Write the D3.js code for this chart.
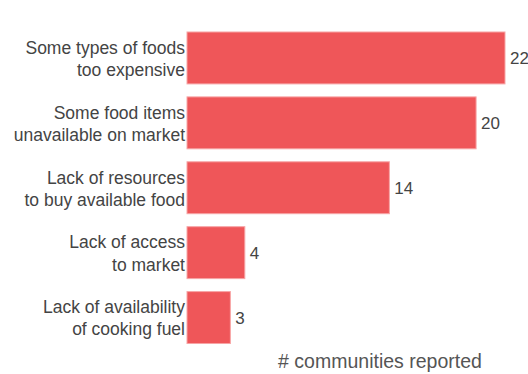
<!DOCTYPE html>
<html>
<head>
<meta charset="utf-8">
<script src="https://cdn.jsdelivr.net/npm/d3@7"></script>
<style>
  body { margin: 0; background: #fff; }
  text { font-family: "Liberation Sans", Arial, sans-serif; }
</style>
</head>
<body>
<div class="chart"></div>
<script>
var categories = [
    ["Some types of foods", "too expensive"],
    ["Some food items", "unavailable on market"],
    ["Lack of resources", "to buy available food"],
    ["Lack of access", "to market"],
    ["Lack of availability", "of cooking fuel"]
];
var values = [22, 20, 14, 4, 3];
var axisTitle = "# communities reported";

var w = 528;
var h = 374;
var left = 187;

var xScale = d3.scaleLinear()
                .domain([0, 22])
                .range([left, 505]);

var yScale = d3.scaleBand()
                .domain(d3.range(categories.length))
                .range([25.5, 350])
                .paddingInner(0.2)
                .paddingOuter(0.1);

var svg = d3.select('.chart')
            .append('svg')
            .attr('width', w)
            .attr('height', h);

svg.selectAll('rect')
    .data(values)
    .enter()
    .append('rect')
    .attr('x', xScale(0))
    .attr('y', function(d, i) { return yScale(i); })
    .attr('width', function(d) { return xScale(d) - xScale(0); })
    .attr('height', yScale.bandwidth())
    .attr('fill', '#ef5659')
    .attr('stroke', '#f7a5a6')
    .attr('stroke-width', 1);

// value labels
svg.selectAll('text.val')
    .data(values)
    .enter()
    .append('text')
    .attr('class', 'val')
    .text(function(d) { return d; })
    .attr('x', function(d) { return xScale(d) + 5; })
    .attr('y', function(d, i) { return yScale(i) + yScale.bandwidth() / 2; })
    .attr('dy', '0.35em')
    .attr('font-size', '17px')
    .attr('fill', '#444');

// category labels, two lines each
var cat = svg.selectAll('text.cat')
    .data(categories)
    .enter()
    .append('text')
    .attr('class', 'cat')
    .attr('text-anchor', 'end')
    .attr('font-size', '17.5px')
    .attr('fill', '#444')
    .attr('y', function(d, i) { return yScale(i) + yScale.bandwidth() / 2; });

cat.selectAll('tspan')
    .data(function(d) { return d; })
    .enter()
    .append('tspan')
    .attr('x', left - 2)
    .attr('dy', function(d, j) { return j === 0 ? '-0.24em' : '1.26em'; })
    .text(function(d) { return d; });

svg.append('text')
    .text(axisTitle)
    .attr('text-anchor', 'middle')
    .attr('x', 380)
    .attr('y', 368)
    .attr('font-size', '19.5px')
    .attr('fill', '#555');
</script>
</body>
</html>
